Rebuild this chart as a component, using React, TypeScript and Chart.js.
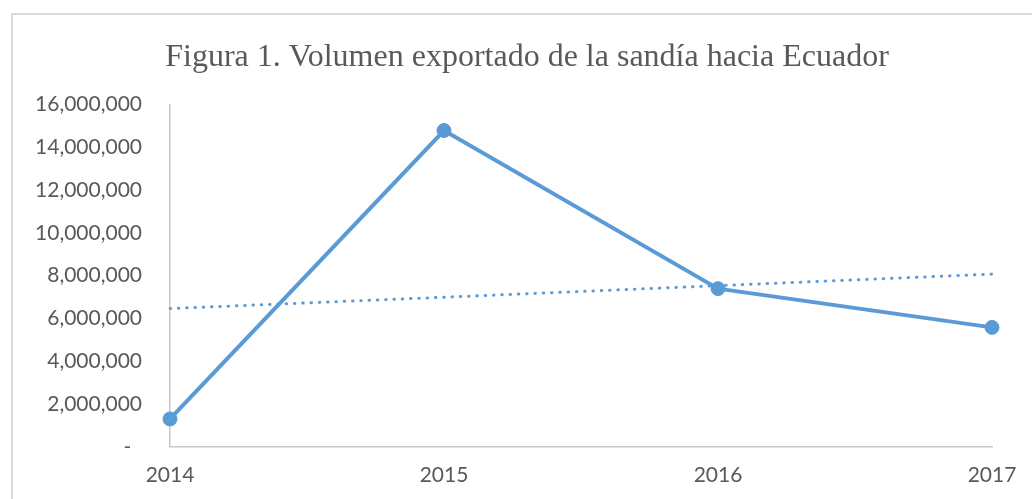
import React, { useEffect, useRef } from "react";
import { Chart, registerables } from "chart.js";

Chart.register(...registerables);

const years = ["2014", "2015", "2016", "2017"];
const volume = [1300000, 14780000, 7390000, 5580000];
const trend = [6460000, 6990000, 7530000, 8070000];
const yTicks = [0, 2000000, 4000000, 6000000, 8000000, 10000000, 12000000, 14000000, 16000000];
const titleText = "Figura 1. Volumen exportado de la sandía hacia Ecuador";

export default function App() {
  const ref = useRef<HTMLCanvasElement | null>(null);
  useEffect(() => {
    if (!ref.current) return;
    const blue = "#5B9BD5";
    const chart = new Chart(ref.current, {
      type: "line",
      data: {
        labels: years,
        datasets: [
          {
            label: "Volumen",
            data: volume,
            borderColor: blue,
            backgroundColor: blue,
            borderWidth: 4,
            pointRadius: 7,
            pointBorderWidth: 1,
            pointBackgroundColor: blue,
            pointBorderColor: blue,
            tension: 0,
          },
          {
            label: "Tendencia",
            data: trend,
            borderColor: blue,
            borderWidth: 3,
            borderDash: [0.5, 7.8],
            borderCapStyle: "round",
            pointRadius: 0,
            tension: 0,
          },
        ],
      },
      options: {
        animation: false,
        responsive: false,
        layout: { padding: { left: 0, right: 0, top: 0, bottom: 29 } },
        plugins: {
          legend: { display: false },
          tooltip: { enabled: false },
          title: {
            display: true,
            text: titleText,
            color: "#595959",
            font: { family: "'Liberation Serif', 'Times New Roman', serif", size: 32, weight: "normal" },
            padding: { top: 23, bottom: 28 },
          },
        },
        scales: {
          x: {
            type: "category",
            offset: false,
            grid: { display: false },
            border: { display: true, color: "#C8C8C8", width: 1.5 },
            ticks: {
              color: "#595959",
              font: { family: "Lato, 'Open Sans', sans-serif", size: 21 },
              padding: 8,
              maxRotation: 0,
            },
          },
          y: {
            min: 0,
            max: 16000000,
            grid: { display: false },
            border: { display: true, color: "#C8C8C8", width: 1.5 },
            afterFit: (s: any) => {
              s.width = 157;
            },
            afterBuildTicks: (s: any) => {
              s.ticks = yTicks.map((v) => ({ value: v }));
            },
            ticks: {
              color: "#595959",
              font: { family: "Lato, 'Open Sans', sans-serif", size: 21 },
              padding: 20,
              callback: (v: any) => (Number(v) === 0 ? "-  " : Number(v).toLocaleString("en-US")),
            },
          },
          yRight: {
            position: "right",
            min: 0,
            max: 16000000,
            grid: { display: false },
            border: { display: false },
            ticks: { display: false },
            afterFit: (s: any) => {
              s.width = 49;
            },
          },
        },
      },
    } as any);
    return () => chart.destroy();
  }, []);
  return (
    <div
      style={{
        position: "fixed",
        left: 11,
        top: 13,
        width: 1028,
        height: 510,
        border: "2px solid #D9D9D9",
        background: "#fff",
      }}
    >
      <canvas ref={ref} width={1028} height={510} style={{ display: "block" }} />
    </div>
  );
}
